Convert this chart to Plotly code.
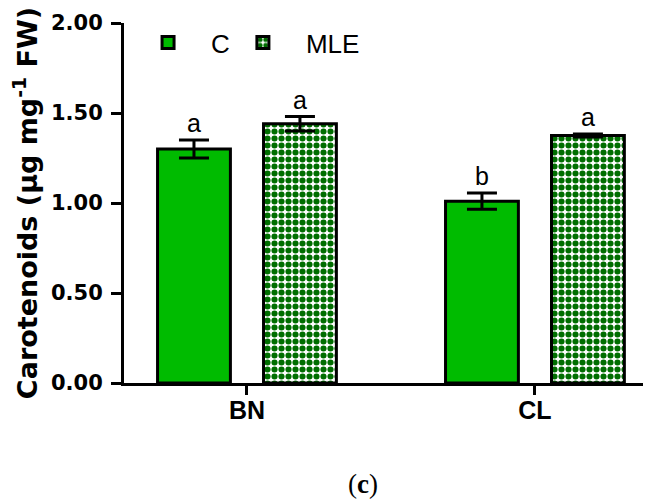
import plotly.graph_objects as go

categories = ["BN", "CL"]
series_names = ["C", "MLE"]
c_values = [1.30, 1.01]
c_errors = [0.05, 0.045]
mle_values = [1.44, 1.375]
mle_errors = [0.04, 0.008]
c_letters = ["a", "b"]
mle_letters = ["a", "a"]
y_ticks = [0.0, 0.5, 1.0, 1.5, 2.0]

GREEN = "#00BB00"
DARK = "#006E00"
FONT = "Liberation Sans, Arial, sans-serif"
WIDEFONT = "DejaVu Sans, Liberation Sans, sans-serif"
offset = 0.184
width = 0.253

idx = list(range(len(categories)))
xc = [i - offset for i in idx]
xm = [i + offset for i in idx]

fig = go.Figure()
fig.add_trace(go.Bar(
    x=xc, y=c_values, width=width, name=series_names[0], legend="legend",
    marker=dict(color=GREEN, line=dict(color="black", width=3)),
    error_y=dict(type="data", array=c_errors, color="black", thickness=3, width=15),
))
fig.add_trace(go.Bar(
    x=xm, y=mle_values, width=width, name=series_names[1], legend="legend2",
    marker=dict(color="white", line=dict(color="black", width=3),
                pattern=dict(shape=".", fgcolor=DARK, bgcolor="white", size=7, solidity=0.6,
                             fillmode="replace")),
    error_y=dict(type="data", array=mle_errors, color="black", thickness=3, width=15),
))

for xs, vals, errs, letters in [(xc, c_values, c_errors, c_letters), (xm, mle_values, mle_errors, mle_letters)]:
    for x, v, e, t in zip(xs, vals, errs, letters):
        fig.add_annotation(x=x, y=v + e, text=t, showarrow=False, yanchor="bottom", yshift=1,
                           font=dict(family=FONT, size=25, color="black"))

fig.add_annotation(xref="paper", yref="paper", x=0.4535, y=-0.28, text="(<b>c</b>)",
                   xanchor="center", yanchor="middle", showarrow=False,
                   font=dict(family="Liberation Serif, DejaVu Serif, serif", size=27, color="black"))

legend_style = dict(orientation="h", xanchor="left", yanchor="top", y=1.011,
                    font=dict(family=FONT, size=26, color="black"), bgcolor="rgba(0,0,0,0)",
                    itemwidth=76)
fig.update_layout(
    width=643, height=491,
    margin=dict(l=116, r=0, t=15, b=116),
    plot_bgcolor="white", paper_bgcolor="white",
    barmode="overlay",
    showlegend=True,
    legend=dict(x=0.002, **legend_style),
    legend2=dict(x=0.182, **legend_style),
    font=dict(family=FONT, color="black"),
)
fig.update_xaxes(range=[-0.427, 1.403], tickvals=idx, ticktext=categories, automargin=False,
                 showline=True, linecolor="black", linewidth=3, ticks="outside", ticklen=9,
                 tickwidth=3, tickcolor="black", showgrid=False, zeroline=False,
                 ticklabelstandoff=-6,
                 tickfont=dict(family=FONT, size=25, color="black", weight="bold"))
fig.update_yaxes(range=[0, 2.0], tickvals=y_ticks, tickformat=".2f", automargin=False,
                 showline=True, linecolor="black", linewidth=3, ticks="outside", ticklen=10,
                 tickwidth=3, tickcolor="black", showgrid=False, zeroline=False,
                 ticklabelstandoff=4,
                 tickfont=dict(family=WIDEFONT, size=21, color="black", weight="bold"),
                 title=dict(text="<b>Carotenoids (μg mg<sup>-1</sup> FW)</b>", standoff=6,
                            font=dict(family=WIDEFONT, size=27, color="black")))

fig.write_html("out.html")
